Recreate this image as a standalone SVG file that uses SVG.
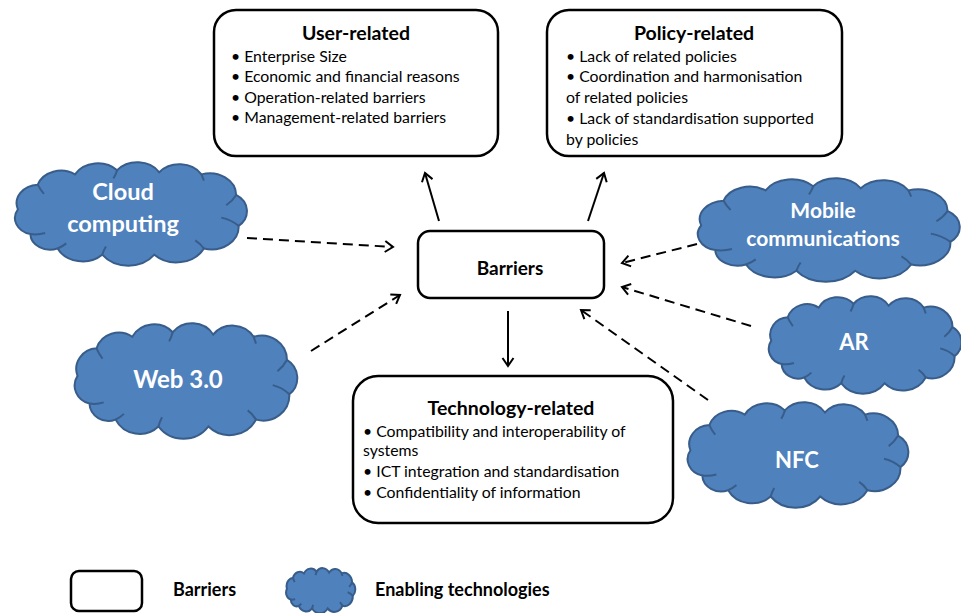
<svg xmlns="http://www.w3.org/2000/svg" xmlns:xlink="http://www.w3.org/1999/xlink" width="961" height="613" viewBox="0 0 961 613">
<style>
.box{fill:#fff;stroke:#000;stroke-width:2.5}
.title{font-family:Lato,"Open Sans",sans-serif;font-weight:bold;font-size:19.5px;fill:#000;text-anchor:middle}
.item{font-family:Lato,"Open Sans",sans-serif;font-size:15.8px;fill:#000}
.ctext{font-family:Lato,"Open Sans",sans-serif;font-weight:bold;font-size:22px;fill:#fff;text-anchor:middle}
.leg{font-family:Lato,"Open Sans",sans-serif;font-weight:bold;font-size:18px;fill:#000}
.solid{stroke:#000;stroke-width:2;fill:none}
.dash{stroke:#000;stroke-width:2;fill:none;stroke-dasharray:10 6}
.cfill{fill:#4F81BD;stroke:#385D8A;stroke-width:2}
.cinner{fill:none;stroke:#385D8A;stroke-width:2}
</style>
<defs>
<marker id="ah" markerWidth="14" markerHeight="14" refX="11" refY="7" orient="auto" markerUnits="userSpaceOnUse">
<path d="M3,1.5 L11,7 L3,12.5" fill="none" stroke="#000" stroke-width="2"/>
</marker>
<g id="cloud">
<path class="cfill" vector-effect="non-scaling-stroke" d="M18,70 A16 16 0 0 1 8,46 A18 18 0 0 1 24,22 A19.6 19.6 0 0 1 54,12 A21.2 21.2 0 0 1 88,8 A21 21 0 0 1 122,10 A21 21 0 0 1 156,12 A21.3 21.3 0 0 1 184,32 A18.6 18.6 0 0 1 186,62 A22 22 0 0 1 158,84 A25 25 0 0 1 118,90 A26 26 0 0 1 76,90 A22.6 22.6 0 0 1 40,84 A16 16 0 0 1 18,70 Z"/>
<path class="cinner" vector-effect="non-scaling-stroke" d="M18,70 Q24,71 30,69 M24,22 Q26,27 29,31 M88,8 Q87,12 85,16 M156,12 Q157,15 158,18 M184,32 Q181,38 176,42 M186,62 Q180,56 172,54 M158,84 Q155,79 151,76 M76,90 Q77,86 79,82 M40,84 Q44,82 47,79"/>
</g>
</defs>

<g id="connectors">
<line class="solid" x1="439" y1="221" x2="425" y2="173" marker-end="url(#ah)"/>
<line class="solid" x1="588" y1="221" x2="604" y2="173" marker-end="url(#ah)"/>
<line class="solid" x1="508" y1="311" x2="508" y2="366" marker-end="url(#ah)"/>
<line class="dash" x1="247" y1="238" x2="393" y2="247" marker-end="url(#ah)"/>
<line class="dash" x1="311" y1="351" x2="400" y2="295" marker-end="url(#ah)"/>
<line class="dash" x1="697" y1="244" x2="622" y2="263" marker-end="url(#ah)"/>
<line class="dash" x1="751" y1="326" x2="622" y2="287" marker-end="url(#ah)"/>
<line class="dash" x1="708" y1="400" x2="581" y2="310" marker-end="url(#ah)"/>
</g>

<g id="user-related">
<rect class="box" x="214" y="10" width="284" height="146" rx="22"/>
<text class="title" x="356" y="40">User-related</text>
<text class="item" x="231" y="62">•  Enterprise Size</text>
<text class="item" x="231" y="82">• Economic and financial reasons</text>
<text class="item" x="231" y="103">• Operation-related barriers</text>
<text class="item" x="231" y="123">• Management-related barriers</text>
</g>

<g id="policy-related">
<rect class="box" x="547" y="10" width="295" height="146" rx="22"/>
<text class="title" x="694" y="40">Policy-related</text>
<text class="item" x="566" y="62">• Lack of related policies</text>
<text class="item" x="566" y="82">• Coordination and harmonisation</text>
<text class="item" x="566" y="103">of related policies</text>
<text class="item" x="566" y="124">• Lack of standardisation supported</text>
<text class="item" x="566" y="145">by policies</text>
</g>

<g id="barriers">
<rect class="box" x="418" y="231" width="186" height="67" rx="12"/>
<text class="title" x="510" y="275" style="font-size:19px">Barriers</text>
</g>

<g id="technology-related">
<rect class="box" x="353" y="376" width="320" height="147" rx="25"/>
<text class="title" x="511" y="415">Technology-related</text>
<text class="item" x="363" y="437">• Compatibility and interoperability of</text>
<text class="item" x="363" y="456">systems</text>
<text class="item" x="363" y="477">• ICT integration and standardisation</text>
<text class="item" x="363" y="498">• Confidentiality of information</text>
</g>

<g id="cloud-computing">
<use xlink:href="#cloud" href="#cloud" transform="translate(8,162) scale(1.24,1.03)"/>
<text class="ctext" x="123" y="200" style="font-size:23.5px">Cloud</text>
<text class="ctext" x="123" y="232" style="font-size:23.5px">computing</text>
</g>

<g id="web30">
<use xlink:href="#cloud" href="#cloud" transform="translate(68,323) scale(1.19,1.15)"/>
<text class="ctext" x="178" y="388" style="font-size:24px">Web 3.0</text>
</g>

<g id="mobile-communications">
<use xlink:href="#cloud" href="#cloud" transform="translate(690,178) scale(1.4,1.03)"/>
<text class="ctext" x="823" y="218" style="font-size:21px">Mobile</text>
<text class="ctext" x="823" y="246" style="font-size:21px">communications</text>
</g>

<g id="ar">
<use xlink:href="#cloud" href="#cloud" transform="translate(763,296) scale(1.03,0.97)"/>
<text class="ctext" x="854" y="350">AR</text>
</g>

<g id="nfc">
<use xlink:href="#cloud" href="#cloud" transform="translate(681,402) scale(1.18,1.05)"/>
<text class="ctext" x="797" y="468">NFC</text>
</g>

<g id="legend">
<rect class="box" x="71" y="571" width="71" height="40" rx="8"/>
<text class="leg" x="173" y="596">Barriers</text>
<use xlink:href="#cloud" href="#cloud" transform="translate(284,568) scale(0.37,0.45)"/>
<text class="leg" x="375" y="596">Enabling technologies</text>
</g>
</svg>
